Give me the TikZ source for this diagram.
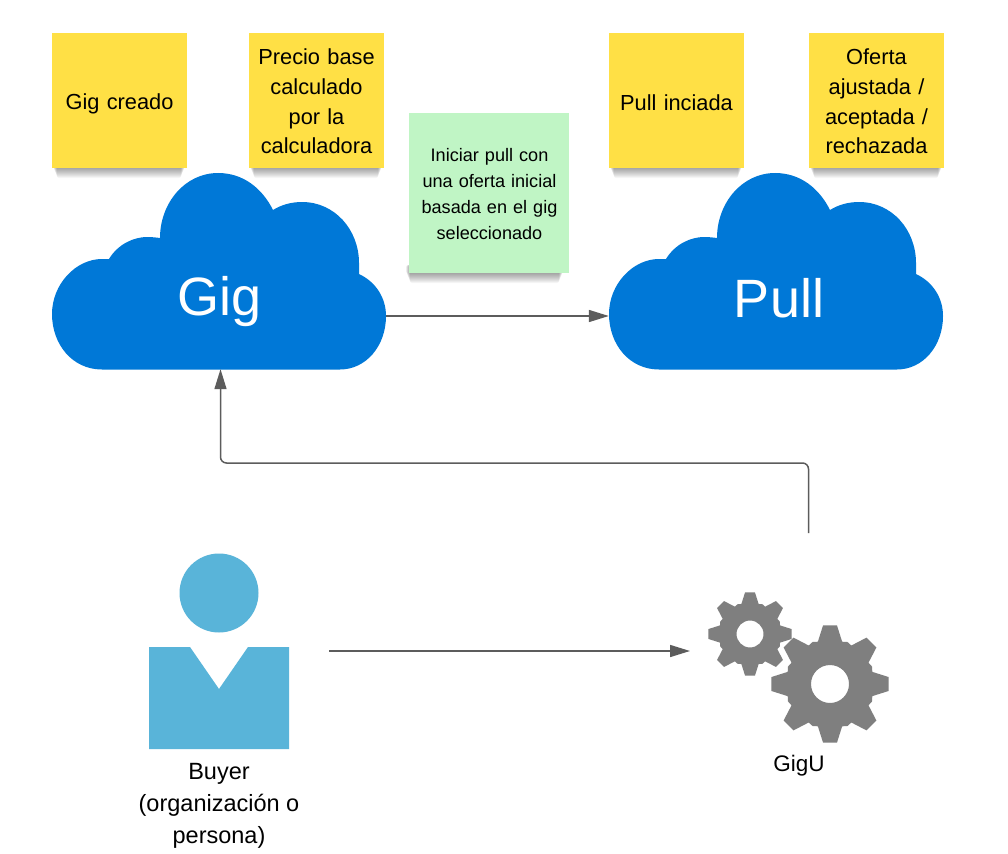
\documentclass[tikz,border=0pt]{standalone}
\usepackage{fontspec}
\setmainfont{Liberation Sans}
\usetikzlibrary{arrows.meta}
\definecolor{stickyY}{HTML}{FFE045}
\definecolor{stickyG}{HTML}{C0F5C5}
\definecolor{cloudB}{HTML}{0078D7}
\definecolor{personB}{HTML}{59B4D9}
\definecolor{gearG}{HTML}{7F7F7F}
\definecolor{lineG}{HTML}{5C5C5C}
\tikzset{
  notetext/.style={inner sep=0pt,align=center,text=black},
  ysticky/.style={notetext,font=\fontsize{21.8}{29.7}\selectfont,text width=128pt},
  gsticky/.style={notetext,font=\fontsize{18.1}{25.7}\selectfont,text width=150pt},
  cloudbox/.style={minimum width=334pt,minimum height=106pt,inner sep=0pt},
  cloudtext/.style={text=white,font=\fontsize{54}{60}\selectfont,inner sep=0pt},
  conn/.style={draw=lineG,line width=1.5pt,-{Triangle[length=20pt,width=12pt]}},
  lab/.style={align=center,text=black,font=\fontsize{23.5}{32}\selectfont,inner sep=0pt}
}
\newcommand{\noteshadow}[3]{%
  \foreach \i in {0,1,...,10}{
    \fill[black,opacity=.04,rounded corners=2pt] ({#1+1+\i*.4},{#3-8}) rectangle ({#2-2-\i*.4},{#3+\i});
  }}
\newcommand{\cloudshape}{%
  \fill[cloudB] (102,369.5) .. controls (72,369.5) and (52,344) .. (52,314)
    .. controls (52,284) and (76,259) .. (102,259) -- (109,259)
    .. controls (118,244) and (134,237) .. (147,237)
    .. controls (152,237) and (156,237.5) .. (160,238)
    .. controls (160,203) and (185,173) .. (218,173)
    .. controls (243,173) and (262,188) .. (273,210)
    .. controls (281,205) and (291,202) .. (302,202)
    .. controls (335,202) and (359,230) .. (359,263) -- (359,274)
    .. controls (376,282) and (386,298) .. (386,316)
    .. controls (386,346) and (366,369.5) .. (340,369.5) -- cycle;}
\newcommand{\gearshape}[3]{%
  \begin{scope}[shift={(#1,#2)},scale=#3]
    \fill[gearG,even odd rule] (-16:44)
      \foreach \a in {0,45,...,315}{ -- (\a-16:44) -- (\a-6.8:59) -- (\a+6.8:59) -- (\a+16:44) -- (\a+22.5:45.5) } -- cycle
      (0,0) circle[radius=19];
  \end{scope}}
\begin{document}
\begin{tikzpicture}[x=1pt,y=-1pt]
\useasboundingbox (0,0) rectangle (1008,853);
\fill[white] (0,0) rectangle (1008,853);
% note shadows
\noteshadow{52}{187}{168}
\noteshadow{249}{384}{168}
\noteshadow{609}{744}{168}
\noteshadow{809}{944}{168}
\noteshadow{405}{565}{273}
% clouds
\cloudshape
\begin{scope}[shift={(557,0)}]\cloudshape\end{scope}
% sticky notes
\fill[stickyY] (52,33) rectangle (187,168);
\fill[stickyY] (249,33) rectangle (384,168);
\fill[stickyY] (609,33) rectangle (744,168);
\fill[stickyY] (809,33) rectangle (944,168);
\fill[stickyG] (409,113) rectangle (569,273);
\node[ysticky] (n1) at (119.5,103.5) {Gig creado};
\node[ysticky] (n2) at (316.5,101.5) {Precio base\\calculado\\por la\\calculadora};
\node[ysticky] (n3) at (676.5,102.5) {Pull inciada};
\node[ysticky] (n4) at (876.5,101.5) {Oferta\\ajustada /\\aceptada /\\rechazada};
\node[gsticky] (n5) at (489.5,194) {Iniciar pull con\\una oferta inicial\\basada en el gig\\seleccionado};
% cloud anchors and labels
\node[cloudbox] (gig) at (219,316) {};
\node[cloudbox] (pull) at (776,316) {};
\node[cloudtext] (gigt) at (219.5,302) {Gig};
\node[cloudtext] (pullt) at (779,298) {Pull};
% buyer
\fill[personB] (219,593) circle[radius=39.5];
\fill[personB] (149,647) -- (190,647) -- (219,689) -- (248,647) -- (289,647) -- (289,749) -- (149,749) -- cycle;
\node[lab] (buyer) at (219,805.5) {Buyer\\(organización o\\persona)};
% gears
\gearshape{830}{684}{1}
\gearshape{750}{634}{0.71}
\node[lab,font=\fontsize{22.5}{32}\selectfont] (gigu) at (799,765.5) {GigU};
% connector ends
\coordinate (buyerout) at (329,651);
\coordinate (gearsin) at (690,651);
\coordinate (gearsout) at (808.5,533);
\coordinate (turn) at (220.5,463);
% connectors
\draw[conn] (gig.east) -- (pull.west);
\draw[conn] (buyerout) -- (gearsin);
\draw[conn,rounded corners=6pt] (gearsout) |- (turn) -- ([xshift=1.5pt]gig.south);
\end{tikzpicture}
\end{document}
